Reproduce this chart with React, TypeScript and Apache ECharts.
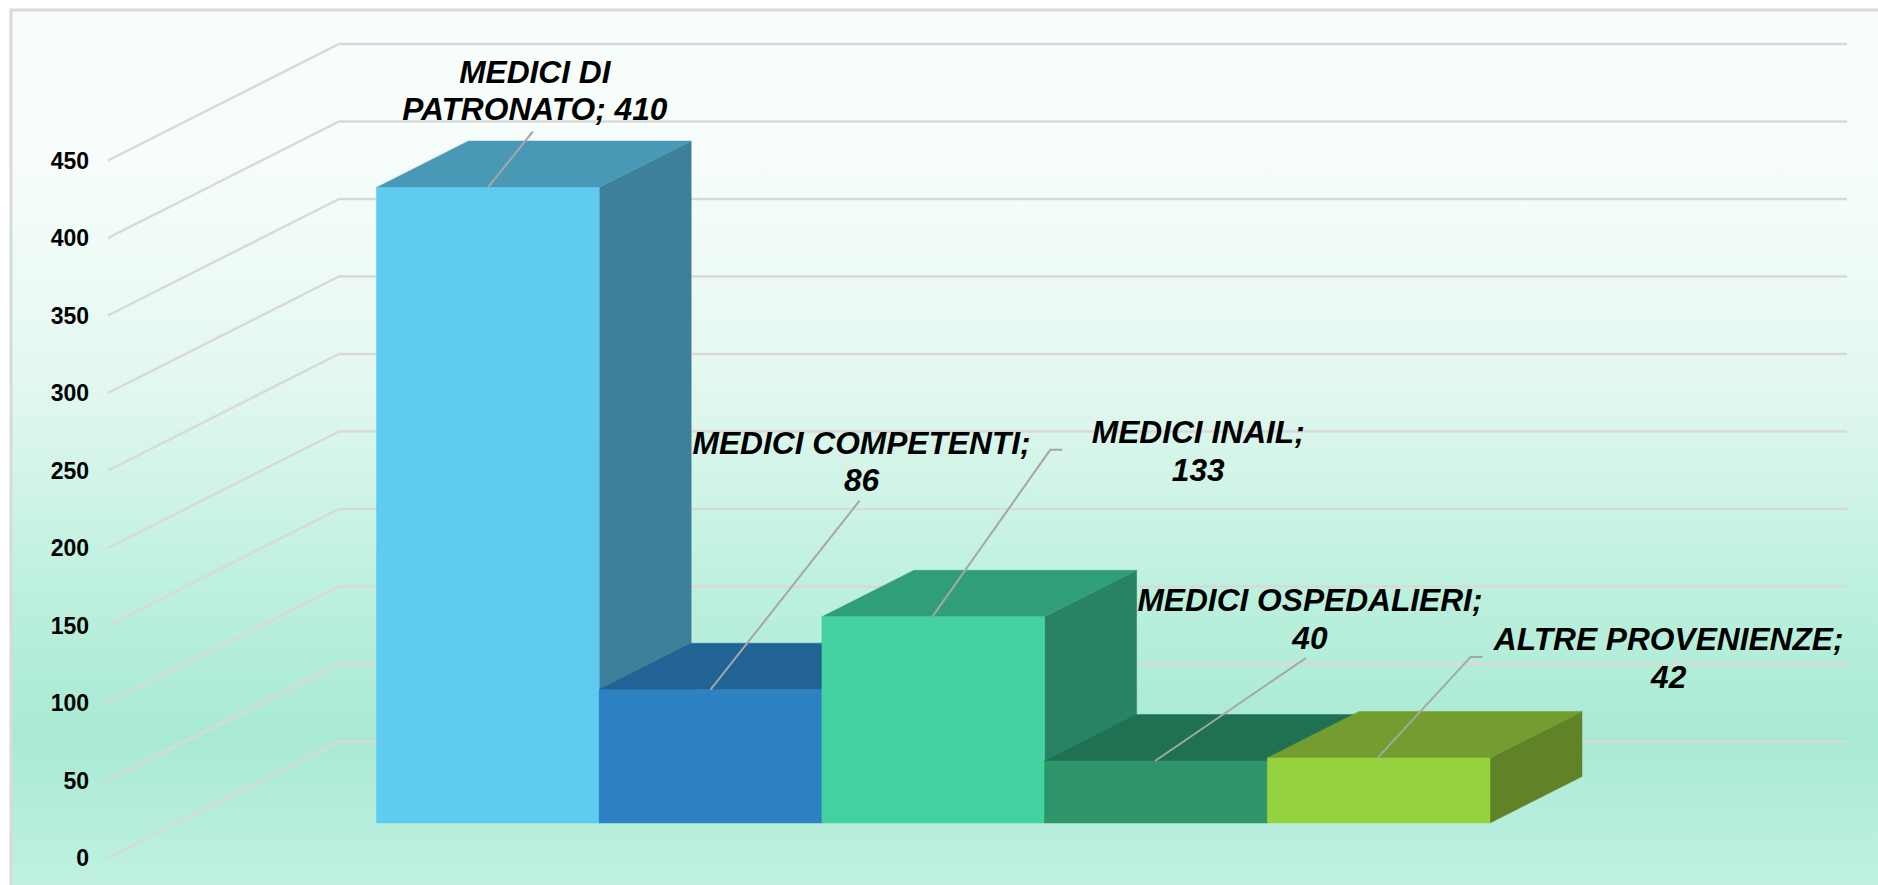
import React, { useEffect, useRef } from "react";
import * as echarts from "echarts";

const categories = [
  "MEDICI DI PATRONATO",
  "MEDICI COMPETENTI",
  "MEDICI INAIL",
  "MEDICI OSPEDALIERI",
  "ALTRE PROVENIENZE",
];
const values = [410, 86, 133, 40, 42];
const labelTexts = [
  "MEDICI DI\nPATRONATO; 410",
  "MEDICI COMPETENTI;\n86",
  "MEDICI INAIL;\n133",
  "MEDICI OSPEDALIERI;\n40",
  "ALTRE PROVENIENZE;\n42",
];
const tickValues = [0, 50, 100, 150, 200, 250, 300, 350, 400, 450];

const frontColors = ["#5ecbf0", "#2e82c4", "#43d2a0", "#2e9469", "#96d13f"];
const topColors = ["#4898b6", "#216394", "#319e7b", "#207052", "#739e2f"];
const sideColors = ["#3e7f9a", "#1e5a88", "#2a8266", "#1c6348", "#618327"];

// Layout (px), relative to the front-top centre of each bar
const leaderPaths = [
  [[0, 0], [45, -56]],
  [[0, 0], [149, -189]],
  [[-1, 0], [117, -167], [129, -167]],
  [[-1, 0], [150, -103]],
  [[-1, 0], [92, -101], [104, -101]],
];
const labelOffsets = [
  [47, -97],
  [151, -228],
  [265, -166],
  [154, -142],
  [290, -100],
];

const W = 1878;
const H = 885;
const GRID_LEFT = 108;
const FRONT_TOP = 160.5;
const PLOT_H = 697.5;
const FLOOR_LIFT = 35;
const WALL_DX = 231;
const WALL_DY = 116.5;
const WALL_RIGHT = 1847;
const BAR_LEFT = 376.5;
const BAR_W = 1113.5;
const DEPTH_X = 92;
const DEPTH_Y = 46.5;
const FONT = "'Liberation Sans', Arial, sans-serif";
const RECT_TOP = 10;
const RECT_H = H + 40;

const bgStop = (y: number) => (y - RECT_TOP) / RECT_H;

export default function App() {
  const ref = useRef<HTMLDivElement>(null);

  useEffect(() => {
    if (!ref.current) return;
    const chart = echarts.init(ref.current, undefined, { renderer: "svg" });
    const barData = values.map((v, i) => [i, v]);

    chart.setOption({
      animation: false,
      backgroundColor: "#ffffff",
      graphic: [
        {
          type: "rect",
          z: -10,
          shape: { x: 11, y: RECT_TOP, width: W + 40, height: RECT_H },
          style: {
            fill: new echarts.graphic.LinearGradient(0, 0, 0, 1, [
              { offset: 0, color: "#f7fdfb" },
              { offset: bgStop(160), color: "#f6fdfa" },
              { offset: bgStop(280), color: "#edfaf5" },
              { offset: bgStop(400), color: "#e0f7ee" },
              { offset: bgStop(600), color: "#bbf0dd" },
              { offset: bgStop(737), color: "#a9ead4" },
              { offset: bgStop(885), color: "#c0f1e0" },
              { offset: 1, color: "#c0f1e0" },
            ]),
            stroke: "#d9d9d9",
            lineWidth: 3,
          },
        },
      ],
      grid: [
        { left: GRID_LEFT, top: FRONT_TOP, width: W - GRID_LEFT - 31, height: PLOT_H },
        { left: BAR_LEFT, top: FRONT_TOP - FLOOR_LIFT, width: BAR_W, height: PLOT_H },
      ],
      xAxis: [
        { type: "category", gridIndex: 0, data: categories, show: false },
        { type: "category", gridIndex: 1, data: categories, show: false },
      ],
      yAxis: [
        {
          type: "value",
          gridIndex: 0,
          min: 0,
          max: 450,
          interval: 50,
          axisLine: { show: false },
          axisTick: { show: false },
          splitLine: { show: false },
          axisLabel: {
            margin: 19,
            color: "#000000",
            fontFamily: FONT,
            fontWeight: "bold",
            fontSize: 23,
          },
        },
        {
          type: "value",
          gridIndex: 1,
          min: 0,
          max: 450,
          interval: 50,
          show: false,
        },
      ],
      series: [
        {
          type: "custom",
          name: "grid",
          xAxisIndex: 0,
          yAxisIndex: 0,
          z: 1,
          silent: true,
          encode: { y: 1 },
          data: tickValues.map((t) => [0, t]),
          renderItem: (_p: any, api: any) => {
            const y = api.coord([0, api.value(1)])[1];
            return {
              type: "polyline",
              shape: {
                points: [
                  [GRID_LEFT, y],
                  [GRID_LEFT + WALL_DX, y - WALL_DY],
                  [WALL_RIGHT, y - WALL_DY],
                ],
              },
              style: { fill: "none", stroke: "#d9d9d9", lineWidth: 2.5 },
            };
          },
        },
        {
          type: "custom",
          name: "bars",
          xAxisIndex: 1,
          yAxisIndex: 1,
          z: 2,
          silent: true,
          encode: { x: 0, y: 1 },
          data: barData,
          renderItem: (_p: any, api: any) => {
            const i = api.value(0);
            const band = api.size([1, 0])[0];
            const [cx, yTop] = api.coord([i, api.value(1)]);
            const y0 = api.coord([i, 0])[1];
            const xl = cx - band / 2;
            const xr = cx + band / 2;
            const face = (points: number[][], color: string) => ({
              type: "polygon",
              shape: { points },
              style: { fill: color, stroke: color, lineWidth: 0.5 },
            });
            return {
              type: "group",
              children: [
                face(
                  [
                    [xr, yTop],
                    [xr + DEPTH_X, yTop - DEPTH_Y],
                    [xr + DEPTH_X, y0 - DEPTH_Y],
                    [xr, y0],
                  ],
                  sideColors[i]
                ),
                face(
                  [
                    [xl, yTop],
                    [xl + DEPTH_X, yTop - DEPTH_Y],
                    [xr + DEPTH_X, yTop - DEPTH_Y],
                    [xr, yTop],
                  ],
                  topColors[i]
                ),
                face(
                  [
                    [xl, yTop],
                    [xr, yTop],
                    [xr, y0],
                    [xl, y0],
                  ],
                  frontColors[i]
                ),
              ],
            };
          },
        },
        {
          type: "custom",
          name: "labels",
          xAxisIndex: 1,
          yAxisIndex: 1,
          z: 3,
          silent: true,
          encode: { x: 0, y: 1 },
          data: barData,
          renderItem: (_p: any, api: any) => {
            const i = api.value(0);
            const [cx, yTop] = api.coord([i, api.value(1)]);
            return {
              type: "group",
              children: [
                {
                  type: "polyline",
                  shape: { points: leaderPaths[i].map(([dx, dy]) => [cx + dx, yTop + dy]) },
                  style: { fill: "none", stroke: "#a6a6a6", lineWidth: 2 },
                },
                {
                  type: "text",
                  style: {
                    x: cx + labelOffsets[i][0],
                    y: yTop + labelOffsets[i][1],
                    text: labelTexts[i],
                    align: "center",
                    verticalAlign: "middle",
                    fill: "#000000",
                    fontFamily: FONT,
                    fontWeight: "bold",
                    fontStyle: "italic",
                    fontSize: 31.7,
                    lineHeight: 37.5,
                  },
                },
              ],
            };
          },
        },
      ],
    });

    return () => chart.dispose();
  }, []);

  return <div ref={ref} style={{ position: "fixed", left: 0, top: 0, width: W, height: H }} />;
}
